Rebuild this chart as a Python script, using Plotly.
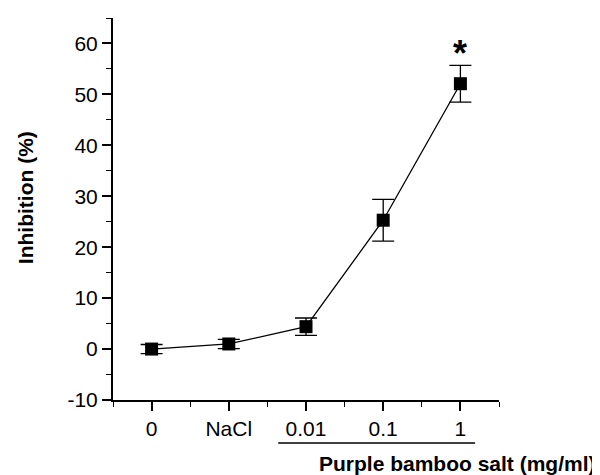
import plotly.graph_objects as go

categories = ["0", "NaCl", "0.01", "0.1", "1"]
inhibition = [0.0, 1.0, 4.4, 25.3, 52.1]
error = [0.9, 0.9, 1.7, 4.1, 3.6]
y_ticks = [-10, 0, 10, 20, 30, 40, 50, 60]
y_tick_labels = ["-10", "0", "10", "20", "30", "40", "50", "60"]
star_label = "*"

xpos = list(range(1, len(categories) + 1))

fig = go.Figure()
fig.add_trace(go.Scatter(
    x=xpos, y=inhibition,
    mode="lines+markers",
    line=dict(color="black", width=1.3),
    marker=dict(symbol="square", size=13, color="black"),
    error_y=dict(type="data", array=error, visible=True,
                 color="black", thickness=1.3, width=11),
    showlegend=False,
))

font_family = "Arial, Liberation Sans, Helvetica, sans-serif"

# page body has an 8px margin, so the figure is sized to fit the 600x475 window
fig.update_layout(
    template="none",
    width=592, height=467,
    margin=dict(l=105, r=101, t=10, b=75, pad=0),
    paper_bgcolor="white", plot_bgcolor="white",
    font=dict(family=font_family, color="black", size=21),
    xaxis=dict(
        automargin=False,
        range=[0.5, 5.5], tickmode="array", tickvals=xpos, ticktext=categories,
        showgrid=False, zeroline=False, showline=True, linecolor="black", linewidth=2,
        ticks="outside", ticklen=9, tickwidth=1.6, tickcolor="black",
        minor=dict(ticks="outside", tick0=0.5, dtick=1, ticklen=5, tickwidth=1.4, tickcolor="black",
                   showgrid=False),
        tickfont=dict(size=21),
    ),
    yaxis=dict(
        automargin=False,
        range=[-10, 65], tickmode="array", tickvals=y_ticks, ticktext=y_tick_labels,
        showgrid=False, zeroline=False, showline=True, linecolor="black", linewidth=2,
        ticks="outside", ticklen=9, tickwidth=1.6, tickcolor="black",
        minor=dict(ticks="outside", tick0=-10, dtick=5, ticklen=5, tickwidth=1.4, tickcolor="black",
                   showgrid=False),
        tickfont=dict(size=21),
    ),
)

# asterisk above the highest point
fig.add_annotation(x=xpos[-1], y=inhibition[-1] + error[-1], yshift=12,
                   text="<b>" + star_label + "</b>", showarrow=False,
                   font=dict(size=36, color="black"), xanchor="center", yanchor="middle")

# y-axis title
fig.add_annotation(xref="paper", yref="paper", x=-0.228, y=0.531,
                   text="<b>Inhibition (%)</b>", textangle=-90, showarrow=False,
                   font=dict(size=21), xanchor="center", yanchor="middle")

# x-axis title
fig.add_annotation(xref="paper", yref="paper", x=1.256, y=-0.165,
                   text="<b>Purple bamboo salt (mg/ml)</b>", showarrow=False,
                   font=dict(size=21), xanchor="right", yanchor="middle")

# bracket line under purple bamboo salt concentrations
fig.add_shape(type="line", xref="x", yref="paper", x0=2.64, x1=5.19, y0=-0.1126, y1=-0.1126,
              line=dict(color="black", width=1.5))

fig.write_html("out.html")
